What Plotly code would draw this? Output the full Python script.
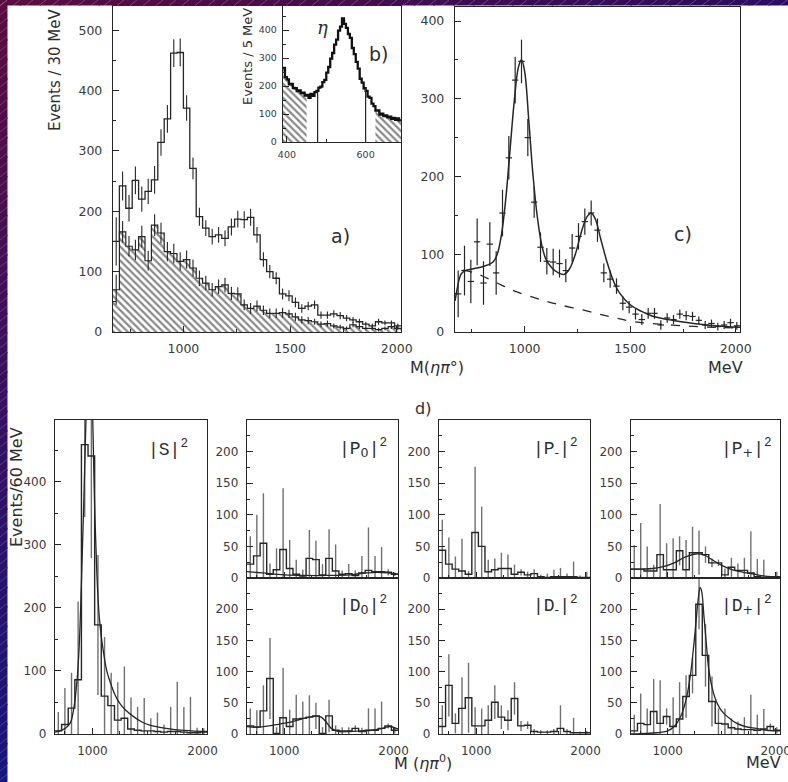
import plotly.graph_objects as go

W, H = 788, 782

# ---------------- data ----------------
# a) M(eta pi0) spectrum, 30 MeV bins: total and eta-sideband (hatched) background
mass_a = list(range(685, 2020, 30))
events_total = [150, 242, 205, 251, 220, 233, 252, 314, 353, 462, 463, 371, 271, 191, 172, 158, 161, 155, 174, 187,
                186, 190, 161, 120, 100, 89, 63, 60, 49, 39, 43, 45, 28, 28, 30, 27, 23, 20, 17, 13, 10, 17, 15, 15, 10]
err_total = [40, 24, 22, 23, 21, 21, 23, 22, 23, 23, 23, 21, 18, 15, 13, 13, 13, 13, 14, 14,
             14, 14, 13, 12, 11, 10, 9, 9, 8, 7, 7, 7, 6, 6, 6, 6, 5, 5, 5, 4, 4, 5, 4, 4, 4]
events_sideband = [70, 166, 142, 136, 158, 118, 177, 164, 133, 130, 117, 120, 106, 89, 81, 70, 75, 78, 64, 63,
                   45, 39, 43, 36, 31, 31, 32, 30, 25, 20, 19, 17, 13, 14, 10, 8, 6, 12, 9, 6, 6, 4, 6, 9, 6]
err_sideband = [25, 18, 17, 17, 18, 16, 18, 17, 16, 16, 15, 15, 14, 13, 12, 11, 12, 12, 11, 11,
                9, 9, 9, 8, 8, 8, 8, 7, 7, 6, 6, 5, 5, 5, 4, 4, 3, 4, 4, 3, 3, 3, 3, 4, 3]

# b) gamma-gamma mass, 5 MeV bins
mass_b = [392.5 + 5 * i for i in range(60)]
eta_counts = [265, 232, 224, 206, 208, 193, 192, 182, 184, 175, 176, 166, 168, 158, 172, 165, 178, 183, 194, 198,
              214, 222, 248, 268, 298, 318, 348, 366, 398, 412, 442, 422, 408, 386, 372, 336, 314, 286, 262, 226,
              212, 192, 183, 162, 158, 137, 128, 112, 113, 98, 101, 93, 95, 88, 91, 83, 86, 79, 84, 77]
eta_sidebands = [(390, 450), (625, 690)]
eta_window = [478, 600]

# c) background-subtracted spectrum with fit
mass_c = mass_a
signal_c = [49, 79, 65, 116, 63, 113, 76, 153, 224, 324, 348, 250, 167, 109, 91, 90, 88, 79, 108, 123,
            142, 153, 131, 76, 68, 59, 37, 32, 23, 16, 24, 24, 9, 18, 16, 23, 21, 20, 15, 9, 11, 7, 9, 12, 8]
err_c = [30, 32, 28, 30, 28, 28, 28, 30, 28, 30, 28, 24, 20, 19, 17, 17, 18, 15, 18, 17,
         17, 16, 15, 12, 11, 10, 9, 8, 7, 7, 7, 7, 6, 6, 6, 6, 6, 6, 5, 5, 5, 5, 5, 5, 5]
fit_c_mass = [670, 680, 690, 700, 720, 750, 800, 850, 870, 890, 910, 930, 950, 970, 985, 1000, 1020, 1040, 1060, 1080,
              1100, 1130, 1160, 1185, 1210, 1240, 1270, 1295, 1315, 1335, 1360, 1390, 1420, 1450, 1500, 1550, 1600,
              1700, 1800, 1900, 2020]
fit_c = [40, 55, 68, 75, 79, 81, 84, 90, 100, 125, 170, 232, 295, 340, 350, 335, 270, 200, 148, 113,
         94, 82, 76, 74, 80, 100, 130, 148, 153, 145, 120, 90, 66, 50, 35, 27, 21, 15, 11, 8, 6]
bkg_c_mass = [710, 750, 800, 870, 950, 1060, 1150, 1280, 1400, 1500, 1600, 1750, 1900, 2020]
bkg_c = [80, 77, 72, 63, 53, 43, 36, 28, 20, 14, 11, 8, 6, 5]

# d) partial-wave intensities, 60 MeV bins
mass_d = list(range(690, 2040, 60))
S_vals = [5, 15, 41, 86, 459, 441, 173, 60, 45, 22, 25, 8, 6, 5, 5, 4, 3, 4, 4, 3, 2, 2, 3]
S_err = [30, 58, 56, 124, 115, 162, 111, 94, 52, 60, 82, 50, 37, 52, 20, 30, 12, 39, 79, 40, 57, 8, 6]
S_fit_mass = [660, 720, 760, 800, 830, 860, 880, 900, 920, 940, 960, 975, 990, 1005, 1020, 1040, 1060, 1080, 1100,
              1130, 1160, 1200, 1250, 1300, 1370, 1450, 1520, 1600, 1700, 1800, 1900, 2040]
S_fit = [3, 6, 10, 18, 40, 85, 140, 240, 360, 490, 600, 630, 590, 480, 360, 255, 190, 155, 130,
         100, 83, 64, 48, 38, 28, 19, 14, 11, 8, 6, 5, 4]

P0_vals = [22, 35, 55, 6, 13, 45, 15, 6, 3, 31, 29, 5, 31, 11, 6, 7, 4, 8, 12, 10, 10, 9, 6]
P0_err = [44, 65, 79, 17, 34, 97, 45, 23, 10, 45, 30, 17, 46, 42, 6, 15, 8, 27, 68, 25, 39, 5, 3]
P0_fit_mass = [660, 800, 1000, 1200, 1400, 1600, 1750, 1850, 1950, 2040]
P0_fit = [10, 8, 5, 4, 4, 5, 8, 9, 8, 6]

D0_vals = [13, 11, 37, 89, 1, 26, 12, 24, 25, 27, 29, 1, 29, 6, 5, 5, 9, 4, 6, 6, 9, 13, 6]
D0_err = [28, 27, 41, 65, 10, 80, 27, 39, 27, 35, 21, 10, 26, 8, 6, 6, 5, 6, 35, 35, 43, 4, 5]
D0_fit_mass = [660, 760, 860, 960, 1060, 1160, 1260, 1330, 1380, 1430, 1500, 1600, 1700, 1800, 1900, 1960, 2040]
D0_fit = [12, 11, 13, 16, 19, 24, 28, 28, 20, 9, 4, 4, 5, 6, 9, 12, 8]

Pm_vals = [44, 22, 14, 11, 6, 72, 50, 10, 13, 15, 15, 6, 9, 5, 7, 2, 1, 2, 2, 2, 2, 1, 1]
Pm_err = [48, 42, 20, 51, 5, 104, 63, 19, 18, 25, 22, 15, 5, 5, 7, 3, 6, 11, 14, 5, 24, 3, 9]

Dm_vals = [12, 78, 17, 41, 58, 13, 13, 22, 51, 27, 22, 57, 13, 14, 4, 3, 3, 4, 9, 4, 2, 2, 2]
Dm_err = [34, 50, 16, 50, 56, 30, 28, 24, 27, 19, 16, 26, 8, 6, 4, 3, 3, 4, 37, 4, 24, 2, 3]

Pp_vals = [14, 14, 11, 11, 37, 13, 13, 43, 13, 40, 40, 37, 24, 24, 5, 17, 12, 12, 8, 2, 1, 1, 1]
Pp_err = [38, 73, 39, 10, 80, 42, 50, 23, 47, 41, 35, 13, 7, 5, 10, 15, 11, 20, 66, 28, 28, 2, 9]
Pp_fit_mass = [660, 760, 860, 960, 1060, 1160, 1260, 1340, 1420, 1500, 1600, 1700, 1800, 1900, 2040]
Pp_fit = [14, 14, 15, 18, 24, 33, 38, 36, 28, 20, 13, 9, 6, 3, 2]

Dp_vals = [5, 17, 15, 36, 17, 28, 12, 24, 60, 94, 208, 126, 52, 17, 16, 10, 8, 7, 7, 6, 8, 12, 6]
Dp_err = [26, 48, 26, 52, 69, 13, 47, 59, 34, 29, 40, 50, 40, 24, 25, 15, 12, 20, 56, 25, 32, 5, 5]
Dp_fit_mass = [660, 800, 900, 1000, 1060, 1120, 1170, 1210, 1240, 1265, 1285, 1300, 1315, 1335, 1355, 1380, 1410,
               1440, 1480, 1520, 1580, 1640, 1720, 1820, 1920, 2040]
Dp_fit = [0, 1, 2, 5, 12, 28, 55, 94, 140, 185, 220, 235, 228, 190, 150, 104, 75, 57, 42, 33, 24, 17, 12, 9, 6, 5]

# tick labels
ticks_a_y = [0, 100, 200, 300, 400, 500]
ticks_b_y = [0, 100, 200, 300, 400]
ticks_b_x = [400, 600]
ticks_ac_x = [1000, 1500, 2000]
ticks_c_y = [0, 100, 200, 300, 400]
ticks_S_y = [0, 100, 200, 300, 400]
ticks_pw_y = [0, 50, 100, 150, 200]
ticks_d_x = [1000, 2000]

# ---------------- helpers ----------------
INK = "#262626"
GREY = "#707070"
SANS = "DejaVu Sans, Verdana, sans-serif"
TICKFONT = dict(family=SANS, size=12.5, color="#3a3a3a")


def step_xy(centers, values, width):
    xs = [c - width / 2 for c in centers] + [centers[-1] + width / 2]
    ys = list(values) + [values[-1]]
    return xs, ys


def dom_x(x0, x1):
    return [x0 / W, x1 / W]


def dom_y(top, bottom):
    return [1 - bottom / H, 1 - top / H]


def axis(domain, rng, tickvals, minor, anchor, labels=True, size=12.5, standoff=5):
    return dict(domain=domain, range=rng, anchor=anchor, showline=True, mirror=True, automargin=False,
                linecolor=INK, linewidth=1.2, ticks="inside", ticklen=6, tickwidth=1,
                tickcolor=INK, tickmode="array", tickvals=tickvals, ticklabeloverflow="allow",
                minor=dict(tickmode="linear", tick0=0, dtick=minor, ticks="inside", ticklen=3,
                           tickcolor=INK, showgrid=False),
                showgrid=False, zeroline=False, showticklabels=labels,
                tickfont=dict(TICKFONT, size=size), ticklabelstandoff=standoff, fixedrange=True)


fig = go.Figure()


def add(trace, n):
    suffix = "" if n == 1 else str(n)
    trace.update(xaxis="x" + suffix, yaxis="y" + suffix)
    fig.add_trace(trace)


def hist_line(centers, values, width, n, color=INK, lw=1.3):
    xs, ys = step_xy(centers, values, width)
    add(go.Scatter(x=xs, y=ys, mode="lines", line=dict(color=color, width=lw, shape="hv"),
                   hoverinfo="skip"), n)


def err_bars(centers, values, errs, n, color=INK, thick=1.1, xerr=None):
    tr = go.Scatter(x=centers, y=values, mode="markers", marker=dict(size=1, color=color),
                    error_y=dict(type="data", array=errs, width=0, thickness=thick, color=color),
                    hoverinfo="skip")
    if xerr is not None:
        tr.update(error_x=dict(type="constant", value=xerr, width=0, thickness=thick, color=color))
    add(tr, n)


HATCH = dict(shape="\\", fgcolor="#141414", bgcolor="white", size=5, solidity=0.45)

# ---------------- panel a ----------------
xs, ys = step_xy(mass_a, events_sideband, 30)
add(go.Scatter(x=xs, y=ys, mode="lines", line=dict(color=INK, width=1.2, shape="hv"),
               fill="tozeroy", fillcolor="white", fillpattern=HATCH, hoverinfo="skip"), 1)
hist_line(mass_a, events_total, 30, 1)
err_bars(mass_a, events_total, err_total, 1)
err_bars(mass_a, events_sideband, err_sideband, 1)

# ---------------- panel b (inset) ----------------
for lo, hi in eta_sidebands:
    cx = [m for m in mass_b if lo < m < hi]
    cy = [v for m, v in zip(mass_b, eta_counts) if lo < m < hi]
    xs, ys = step_xy(cx, cy, 5)
    add(go.Scatter(x=xs, y=ys, mode="lines", line=dict(color=INK, width=0.8, shape="hv"),
                   fill="tozeroy", fillcolor="white", fillpattern=HATCH, hoverinfo="skip"), 2)
hist_line(mass_b, eta_counts, 5, 2, color="#111111", lw=2.3)
wx, wy = [], []
for edge in eta_window:
    idx = min(range(len(mass_b)), key=lambda i: abs(mass_b[i] - edge))
    wx += [edge, edge, None]
    wy += [0, eta_counts[idx], None]
add(go.Scatter(x=wx, y=wy, mode="lines", line=dict(color=INK, width=1.2), hoverinfo="skip"), 2)

# ---------------- panel c ----------------
add(go.Scatter(x=bkg_c_mass, y=bkg_c, mode="lines", line=dict(color=INK, width=1.3, dash="dash", shape="spline"),
               hoverinfo="skip"), 3)
add(go.Scatter(x=fit_c_mass, y=fit_c, mode="lines", line=dict(color=INK, width=1.5, shape="spline"),
               hoverinfo="skip"), 3)
err_bars(mass_c, signal_c, err_c, 3, thick=1.2, xerr=15)

# ---------------- panel d ----------------
panels_d = [
    (4, S_vals, S_err, (S_fit_mass, S_fit)),
    (5, P0_vals, P0_err, (P0_fit_mass, P0_fit)),
    (6, D0_vals, D0_err, (D0_fit_mass, D0_fit)),
    (7, Pm_vals, Pm_err, None),
    (8, Dm_vals, Dm_err, None),
    (9, Pp_vals, Pp_err, (Pp_fit_mass, Pp_fit)),
    (10, Dp_vals, Dp_err, (Dp_fit_mass, Dp_fit)),
]
for n, vals, errs, fit in panels_d:
    err_bars(mass_d, vals, errs, n, color=GREY, thick=1.4)
    hist_line(mass_d, vals, 60, n, lw=1.4)
    if fit is not None:
        add(go.Scatter(x=fit[0], y=fit[1], mode="lines", line=dict(color=INK, width=1.3, shape="spline"),
                       hoverinfo="skip"), n)

# ---------------- layout ----------------
layout = dict(width=W, height=H, autosize=False, margin=dict(l=0, r=0, t=0, b=0, pad=0),
              paper_bgcolor="white", plot_bgcolor="rgba(0,0,0,0)", showlegend=False)

layout["xaxis"] = axis(dom_x(113, 401), [670, 2020], ticks_ac_x, 250, "y")
layout["yaxis"] = axis(dom_y(6, 332), [0, 540], ticks_a_y, 50, "x", standoff=7)
layout["xaxis2"] = axis(dom_x(283, 401), [390, 690], ticks_b_x, 100, "y2", size=9.5, standoff=3)
layout["yaxis2"] = axis(dom_y(6, 142), [0, 486], ticks_b_y, 50, "x2", size=9.5, standoff=3)
layout["xaxis3"] = axis(dom_x(455, 740), [670, 2020], ticks_ac_x, 250, "y3")
layout["yaxis3"] = axis(dom_y(7, 332), [0, 418], ticks_c_y, 50, "x3", standoff=7)
dx = {4: (55, 207), 5: (247, 398), 6: (247, 398), 7: (439, 590), 8: (439, 590), 9: (631, 780), 10: (631, 780)}
for n, (x0, x1) in dx.items():
    upper = n in (5, 7, 9)
    layout["xaxis%d" % n] = axis(dom_x(x0, x1), [660, 2040], ticks_d_x, 250, "y%d" % n,
                                 labels=not upper, size=12)
    if n == 4:
        layout["yaxis%d" % n] = axis(dom_y(420, 734), [0, 498], ticks_S_y, 50, "x%d" % n, size=12)
    elif upper:
        layout["yaxis%d" % n] = axis(dom_y(420, 578), [0, 250], ticks_pw_y, 25, "x%d" % n, size=12)
    else:
        layout["yaxis%d" % n] = axis(dom_y(578, 734), [0, 250], ticks_pw_y, 25, "x%d" % n, size=12)


def ann(text, x, y, size=16, angle=0, family=SANS, color="#2e2e2e"):
    return dict(text=text, x=x / W, y=1 - y / H, xref="paper", yref="paper", showarrow=False,
                textangle=angle, xanchor="center", yanchor="middle",
                font=dict(family=family, size=size, color=color))


MONO = "Liberation Mono, Courier New, monospace"
SERIF = "DejaVu Serif, serif"


def wave(letter, sub=None):
    s = "|" + letter
    if sub is not None:
        s += "<sub><span style=\"font-family:'DejaVu Sans'\">" + sub + "</span></sub>"
    return s + "|<sup>2</sup>"


annotations = [
    ann("Events / 30 MeV", 55, 70, size=15, angle=-90),
    ann("Events / 5 MeV", 248, 57, size=13, angle=-90),
    ann("<i>η</i>", 322, 28, size=18, family=SERIF),
    ann("b)", 378, 54, size=19),
    ann("a)", 340, 236, size=19),
    ann("c)", 683, 234, size=19),
    ann("M(<i>ηπ</i>°)", 437, 367, size=16),
    ann("MeV", 725, 367, size=16),
    ann("d)", 423, 408, size=16),
    ann("Events/60 MeV", 16, 487, size=16, angle=-90),
    ann("M (<i>ηπ</i><sup>0</sup>)", 423, 762, size=16),
    ann("MeV", 763, 762, size=16),
    ann(wave("S"), 168, 448, size=18, family=MONO),
    ann(wave("P", "0"), 363, 448, size=18, family=MONO),
    ann(wave("D", "0"), 363, 605, size=18, family=MONO),
    ann(wave("P", "-"), 555, 448, size=18, family=MONO),
    ann(wave("D", "-"), 555, 605, size=18, family=MONO),
    ann(wave("P", "+"), 746, 448, size=18, family=MONO),
    ann(wave("D", "+"), 746, 605, size=18, family=MONO),
]
layout["annotations"] = annotations


# slide background border (gradient strips with faint diagonal hatching)
def mix(c1, c2, t):
    a = [int(c1[i:i + 2], 16) for i in (1, 3, 5)]
    b = [int(c2[i:i + 2], 16) for i in (1, 3, 5)]
    return "#%02x%02x%02x" % tuple(round(a[k] + (b[k] - a[k]) * t) for k in range(3))


TL, TR, BL = "#5a0c40", "#2c0c60", "#17157e"
TOP_H, LEFT_W = 5.5, 7.5
shapes = []
N = 40
for i in range(N):
    shapes.append(dict(type="rect", xref="paper", yref="paper", x0=i / N, x1=(i + 1) / N + 0.002,
                       y0=1 - TOP_H / H, y1=1, line=dict(width=0), fillcolor=mix(TL, TR, i / (N - 1)),
                       layer="above"))
for j in range(N):
    shapes.append(dict(type="rect", xref="paper", yref="paper", x0=0, x1=LEFT_W / W,
                       y0=1 - (j + 1) / N - 0.002, y1=1 - j / N, line=dict(width=0),
                       fillcolor=mix(TL, BL, j / (N - 1)), layer="above"))
for k in range(0, W, 13):
    shapes.append(dict(type="line", xref="paper", yref="paper", x0=k / W, x1=(k + 7) / W,
                       y0=1 - TOP_H / H, y1=1, line=dict(color="rgba(255,255,255,0.22)", width=1),
                       layer="above"))
for k in range(0, H, 9):
    shapes.append(dict(type="line", xref="paper", yref="paper", x0=0, x1=LEFT_W / W,
                       y0=1 - (k + 6) / H, y1=1 - k / H, line=dict(color="rgba(255,255,255,0.18)", width=1),
                       layer="above"))
layout["shapes"] = shapes

fig.update_layout(**layout)

PAGE_FIX = (
    "var gd=document.getElementById('{plot_id}');"
    "var de=document.documentElement, b=document.body;"
    "[de,b].forEach(function(e){e.style.margin='0';e.style.padding='0';e.style.overflow='hidden';"
    "e.style.width='788px';e.style.height='782px';});"
    "if(gd&&gd.parentElement){gd.parentElement.style.height='782px';gd.parentElement.style.overflow='hidden';"
    "gd.parentElement.style.lineHeight='0';}"
)
fig.write_html("out.html", config={"displayModeBar": False, "staticPlot": True}, post_script=PAGE_FIX)
